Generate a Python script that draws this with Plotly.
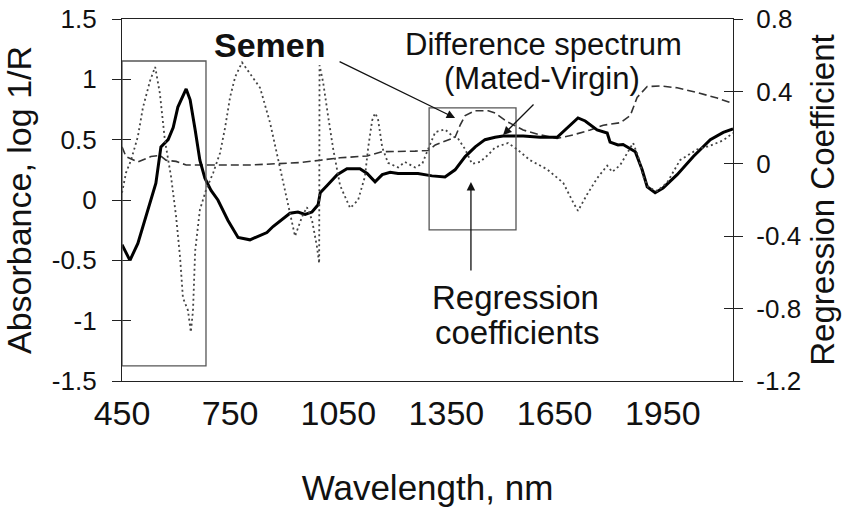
import plotly.graph_objects as go

# ---------------- data ----------------
# Solid thick curve: Difference spectrum (Mated-Virgin), left axis
diff_wl = [450, 472, 494, 528, 544, 558, 578, 592, 605, 628, 639, 653, 666, 680, 697, 716,
           744, 772, 791, 805, 852, 869, 916, 938, 958, 977, 994, 1000, 1019, 1047, 1074,
           1110, 1130, 1152, 1172, 1194, 1216, 1271, 1310, 1346, 1374, 1402, 1430, 1457,
           1485, 1507, 1563, 1610, 1657, 1679, 1715, 1735, 1768, 1796, 1804, 1826, 1840,
           1874, 1893, 1907, 1929, 1951, 1990, 2035, 2082, 2118, 2145]
diff_abs = [-0.37, -0.50, -0.36, -0.02, 0.14, 0.44, 0.50, 0.60, 0.77, 0.92, 0.83, 0.58, 0.33,
            0.18, 0.08, 0.00, -0.17, -0.31, -0.32, -0.33, -0.27, -0.22, -0.11, -0.10, -0.12,
            -0.10, -0.04, 0.06, 0.12, 0.21, 0.26, 0.26, 0.22, 0.15, 0.21, 0.23, 0.22, 0.22,
            0.20, 0.19, 0.25, 0.36, 0.44, 0.50, 0.52, 0.53, 0.53, 0.52, 0.52, 0.58, 0.68,
            0.655, 0.58, 0.555, 0.48, 0.456, 0.46, 0.40, 0.25, 0.11, 0.06, 0.10, 0.21, 0.36,
            0.50, 0.56, 0.59]

# Dashed curve: Semen spectrum, left axis
semen_wl = [450, 461, 494, 530, 555, 572, 600, 628, 805, 944, 1000, 1055, 1130, 1172, 1263,
            1299, 1319, 1355, 1374, 1388, 1402, 1430, 1466, 1485, 1518, 1563, 1610, 1657,
            1702, 1749, 1785, 1832, 1860, 1879, 1907, 1943, 1990, 2046, 2101, 2145]
semen_abs = [0.44, 0.36, 0.315, 0.36, 0.37, 0.33, 0.32, 0.29, 0.29, 0.31, 0.33, 0.35, 0.365,
             0.40, 0.405, 0.41, 0.456, 0.50, 0.52, 0.62, 0.70, 0.74, 0.74, 0.72, 0.65, 0.58,
             0.54, 0.51, 0.54, 0.58, 0.62, 0.64, 0.70, 0.85, 0.94, 0.945, 0.93, 0.89, 0.845,
             0.80]

# Dotted curve: Regression coefficients, right axis
reg_wl = [450, 461, 475, 494, 508, 528, 542, 555, 569, 586, 600, 611, 619, 633, 641, 647,
          653, 666, 683, 703, 722, 736, 750, 764, 783, 833, 861, 888, 908, 930, 950, 963,
          977, 991, 997, 998, 1008, 1022, 1036, 1055, 1083, 1105, 1124, 1133, 1144, 1152,
          1160, 1172, 1188, 1216, 1235, 1263, 1283, 1299, 1319, 1346, 1369, 1382, 1402,
          1421, 1443, 1466, 1485, 1499, 1521, 1546, 1582, 1629, 1674, 1702, 1715, 1740,
          1768, 1796, 1810, 1832, 1860, 1868, 1882, 1896, 1910, 1935, 1962, 1998, 2046,
          2082, 2118, 2145]
reg_coef = [-0.16, -0.05, 0.02, 0.15, 0.31, 0.46, 0.535, 0.39, 0.13, -0.07, -0.29, -0.515,
            -0.74, -0.81, -0.93, -0.81, -0.48, -0.255, -0.145, -0.05, 0.06, 0.20, 0.37, 0.48,
            0.56, 0.42, 0.225, -0.03, -0.20, -0.40, -0.29, -0.24, -0.31, -0.46, -0.55, 0.545,
            0.45, 0.26, 0.08, -0.12, -0.245, -0.20, -0.07, 0.09, 0.24, 0.28, 0.25, 0.09,
            0.005, -0.02, 0.01, -0.02, 0.00, 0.08, 0.175, 0.19, 0.15, 0.14, 0.08, 0.00, 0.01,
            0.05, 0.09, 0.10, 0.115, 0.08, 0.02, -0.03, -0.105, -0.215, -0.26, -0.17, -0.08,
            -0.01, -0.045, -0.007, 0.09, 0.115, 0.04, -0.07, -0.13, -0.15, -0.105, 0.02,
            0.08, 0.10, 0.13, 0.17]

x_ticks = [450, 750, 1050, 1350, 1650, 1950]
x_tick_text = ["450", "750", "1050", "1350", "1650", "1950"]
left_ticks = [-1.5, -1.0, -0.5, 0, 0.5, 1.0, 1.5]
left_tick_text = ["-1.5", "-1", "-0.5", "0", "0.5", "1", "1.5"]
right_ticks = [-1.2, -0.8, -0.4, 0, 0.4, 0.8]
right_tick_text = ["-1.2", "-0.8", "-0.4", "0", "0.4", "0.8"]

# boxed regions (wavelength, absorbance)
box1 = dict(x0=450, x1=683, y0=-1.375, y1=1.152)
box2 = dict(x0=1302, x1=1543, y0=-0.248, y1=0.763)

FONT = "Liberation Sans, Arial, sans-serif"
AX = "#222222"

fig = go.Figure()
fig.add_trace(go.Scatter(x=semen_wl, y=semen_abs, mode="lines", name="Semen",
                         line=dict(color="#333333", width=1.6, dash="8px,4px"),
                         yaxis="y"))
fig.add_trace(go.Scatter(x=reg_wl, y=reg_coef, mode="lines", name="Regression coefficients",
                         line=dict(color="#444444", width=1.8, dash="2px,3px"),
                         yaxis="y2"))
fig.add_trace(go.Scatter(x=diff_wl, y=diff_abs, mode="lines",
                         name="Difference spectrum (Mated-Virgin)",
                         line=dict(color="#000000", width=3), yaxis="y"))

for b in (box1, box2):
    fig.add_shape(type="rect", xref="x", yref="y", line=dict(color="#555555", width=1.3),
                  fillcolor="rgba(0,0,0,0)", **b)

ann_font = dict(family=FONT, size=31, color="#111111")
fig.add_annotation(x=861, y=1.285, xref="x", yref="y", text="<b>Semen</b>", showarrow=False,
                   font=dict(family=FONT, size=34, color="#111111"))
fig.add_annotation(x=1618, y=1.285, xref="x", yref="y", text="Difference spectrum",
                   showarrow=False, font=ann_font)
fig.add_annotation(x=1616, y=1.003, xref="x", yref="y", text="(Mated-Virgin)",
                   showarrow=False, font=ann_font)
fig.add_annotation(x=1541, y=-0.812, xref="x", yref="y", text="Regression",
                   showarrow=False, font=dict(family=FONT, size=33, color="#111111"))
fig.add_annotation(x=1546, y=-1.102, xref="x", yref="y", text="coefficients",
                   showarrow=False, font=dict(family=FONT, size=33, color="#111111"))

arrow_style = dict(showarrow=True, arrowhead=2, arrowsize=1.3, arrowwidth=1.3,
                   arrowcolor="#111111", text="", xref="x", yref="y", axref="pixel",
                   ayref="pixel")
fig.add_annotation(x=1374, y=0.68, ax=-117, ay=-57, **arrow_style)
fig.add_annotation(x=1507, y=0.539, ax=32, ay=-32, **arrow_style)
fig.add_annotation(x=1418, y=0.149, ax=0, ay=90, **arrow_style)

fig.update_layout(
    width=851, height=518,
    margin=dict(l=122, r=118, t=19, b=137, autoexpand=False),
    paper_bgcolor="white", plot_bgcolor="white",
    showlegend=False,
    font=dict(family=FONT, color="#111111"),
    xaxis=dict(range=[450, 2145], tickvals=x_ticks, ticktext=x_tick_text,
               showline=True, mirror=True, linecolor=AX, linewidth=1.3,
               ticks="", showgrid=False, zeroline=False, automargin=False,
               tickfont=dict(size=34), ticklabelstandoff=2,
               title=dict(text="Wavelength, nm", font=dict(size=35), standoff=44)),
    yaxis=dict(range=[-1.5, 1.5], tickvals=left_ticks, ticktext=left_tick_text,
               showline=True, linecolor=AX, linewidth=1.3, ticks="outside", ticklen=9,
               tickcolor=AX, tickwidth=1.3, showgrid=False, zeroline=False,
               automargin=False, tickfont=dict(size=26), ticklabelstandoff=10,
               title=dict(text="Absorbance, log 1/R", font=dict(size=34), standoff=12)),
    yaxis2=dict(range=[-1.2, 0.8], tickvals=right_ticks, ticktext=right_tick_text,
                overlaying="y", side="right", anchor="x",
                showline=True, linecolor=AX, linewidth=1.3, ticks="outside", ticklen=9,
                tickcolor=AX, tickwidth=1.3, showgrid=False, zeroline=False,
                automargin=False, tickfont=dict(size=26), ticklabelstandoff=8,
                title=dict(text="Regression Coefficient", font=dict(size=33), standoff=10)),
    yaxis3=dict(range=[-1.5, 1.5], tickvals=left_ticks, overlaying="y", side="left",
                anchor="x", showline=False, ticks="inside", ticklen=9, tickcolor=AX,
                tickwidth=1.3, showticklabels=False, showgrid=False, zeroline=False),
    yaxis4=dict(range=[-1.2, 0.8], tickvals=right_ticks, overlaying="y", side="right",
                anchor="x", showline=False, ticks="inside", ticklen=9, tickcolor=AX,
                tickwidth=1.3, showticklabels=False, showgrid=False, zeroline=False),
)
# invisible traces so the tick-only overlay axes are drawn
fig.add_trace(go.Scatter(x=[450], y=[0], yaxis="y3", mode="markers",
                         marker=dict(opacity=0), hoverinfo="skip", showlegend=False))
fig.add_trace(go.Scatter(x=[450], y=[0], yaxis="y4", mode="markers",
                         marker=dict(opacity=0), hoverinfo="skip", showlegend=False))

fig.write_html("out.html", config={"displayModeBar": False},
               post_script="document.body.style.margin='0';"
                           "document.body.style.overflow='hidden';")
